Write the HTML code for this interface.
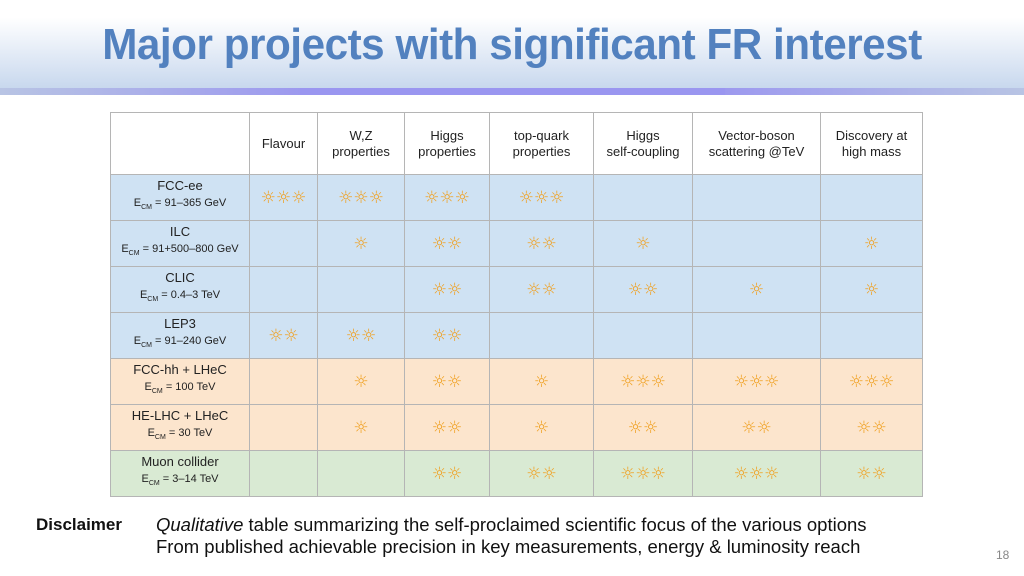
<!DOCTYPE html>
<html><head><meta charset="utf-8"><style>
body{margin:0;width:1024px;height:576px;background:#fff;font-family:"Liberation Sans","DejaVu Sans",sans-serif;position:relative;overflow:hidden}
#hdr{position:absolute;left:0;top:0;width:1024px;height:88px;background:linear-gradient(#fff 0%,#fff 20%,#c8d8ee 100%)}
#title{position:absolute;left:0;width:1024px;top:20px;text-align:center;font-weight:bold;font-size:44px;color:#5281bf;letter-spacing:-0.5px;transform:scaleX(0.96)}
#bar1{position:absolute;left:0;top:88px;width:1024px;height:7px;background:linear-gradient(90deg,#b8c4e4,#9c98ef 30%,#9c98ef 70%,#b8c4e4)}
#bar2{position:absolute;left:300px;top:88px;width:425px;height:7px;background:#9a96f0}
table{position:absolute;left:110px;top:112px;width:804px;table-layout:fixed;border-collapse:collapse;font-size:13px;color:#222}
td{border:1px solid #b5b5b5;text-align:center;padding:0;line-height:16px;overflow:hidden;white-space:nowrap}
.star{color:#f0a020;font-size:17px;font-weight:bold;letter-spacing:0px;font-family:"DejaVu Sans",sans-serif}
sub{font-size:7px}
.disc{position:absolute;top:514px;font-size:18.5px;color:#111}
</style></head><body>
<div id="hdr"></div>
<div id="title">Major projects with significant FR interest</div>
<div id="bar1"></div>
<div id="bar2"></div>
<table id="tbl"></table>
<div class="disc" style="left:36px;font-weight:bold;font-size:17px;top:515px">Disclaimer</div>
<div class="disc" style="left:156px;line-height:22px"><i>Qualitative</i> table summarizing the self-proclaimed scientific focus of the various options<br>From published achievable precision in key measurements, energy &amp; luminosity reach</div>
<div style="position:absolute;left:996px;top:548px;font-size:12px;color:#888">18</div>
<script>
const columns=["Flavour","W,Z<br>properties","Higgs<br>properties","top-quark<br>properties","Higgs<br>self-coupling","Vector-boson<br>scattering @TeV","Discovery at<br>high mass"];
const projects=["FCC-ee","ILC","CLIC","LEP3","FCC-hh + LHeC","HE-LHC + LHeC","Muon collider"];
const energies=["91–365 GeV","91+500–800 GeV","0.4–3 TeV","91–240 GeV","100 TeV","30 TeV","3–14 TeV"];
const stars=[[3,3,3,3,0,0,0],[0,1,2,2,1,0,1],[0,0,2,2,2,1,1],[2,2,2,0,0,0,0],[0,1,2,1,3,3,3],[0,1,2,1,2,2,2],[0,0,2,2,3,3,2]];
const rowColors=["#cfe2f3","#cfe2f3","#cfe2f3","#cfe2f3","#fce5cd","#fce5cd","#d9ead3"];
const widths=[138,67,86,84,103,98,127,101];
const t=document.getElementById('tbl');
let tr=document.createElement('tr');tr.style.height='62px';


let c=document.createElement('td');c.style.width=widths[0]+'px';tr.appendChild(c);
columns.forEach((h,i)=>{const d=document.createElement('td');d.innerHTML=h;d.style.width=widths[i+1]+'px';


tr.appendChild(d);});
t.appendChild(tr);
projects.forEach((p,r)=>{const row=document.createElement('tr');row.style.height='46px';row.style.background=rowColors[r];


const n=document.createElement('td');n.innerHTML=p+'<br><span style="font-size:11px">E<sub>CM</sub> = '+energies[r]+'</span>';


row.appendChild(n);
stars[r].forEach(s=>{const d=document.createElement('td');d.className='star';d.textContent='☼'.repeat(s);


row.appendChild(d);});
t.appendChild(row);});
</script>
</body></html>
